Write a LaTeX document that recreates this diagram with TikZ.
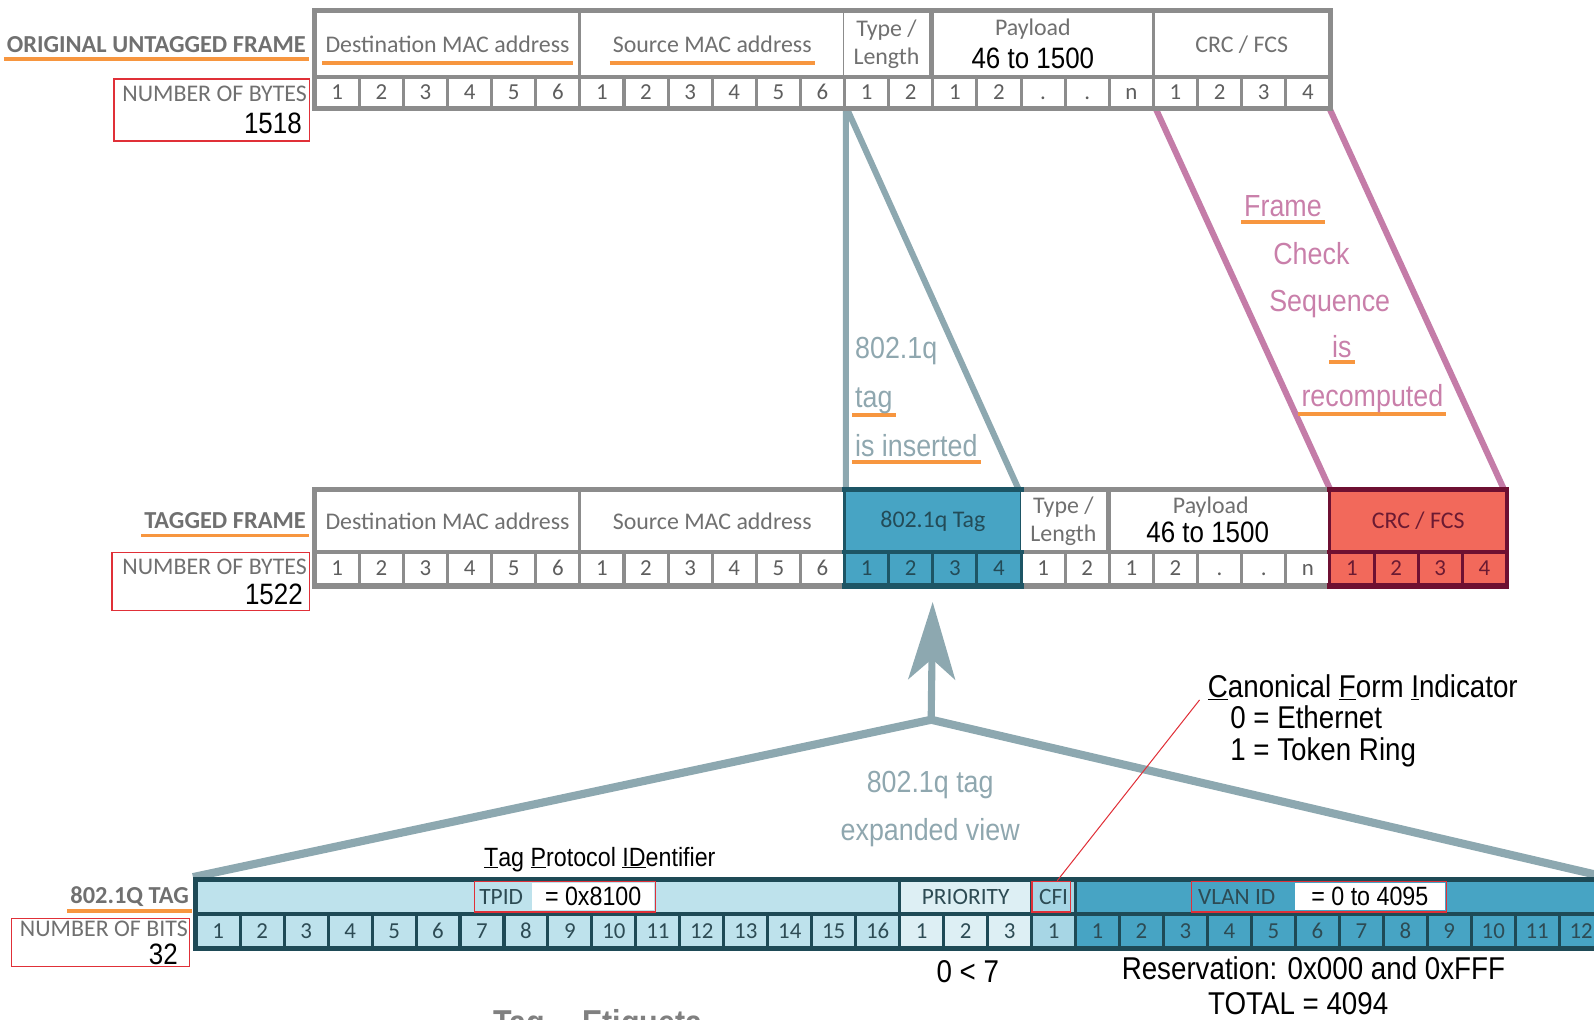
\documentclass[tikz,border=0pt]{standalone}
\usepackage{fontspec}
\setmainfont{Carlito}
\newfontfamily\narrowsans[FakeStretch=0.88]{Liberation Sans}
\usetikzlibrary{arrows.meta, positioning, backgrounds}

\definecolor{framegray}{HTML}{8C8C8C}
\definecolor{txtgray}{HTML}{707070}
\definecolor{numgray}{HTML}{5E5E5E}
\definecolor{tealline}{HTML}{8DA8B0}
\definecolor{tealtext}{HTML}{8FA7AF}
\definecolor{pinkline}{HTML}{C47CA8}
\definecolor{pinktext}{HTML}{C97FAA}
\definecolor{tagdark}{HTML}{1D5565}
\definecolor{tagblue}{HTML}{47A4C4}
\definecolor{tagtxt}{HTML}{234B57}
\definecolor{crcdark}{HTML}{6E1032}
\definecolor{crcred}{HTML}{F2695B}
\definecolor{crctxt}{HTML}{6B1A32}
\definecolor{tpidblue}{HTML}{BEE2EC}
\definecolor{prioblue}{HTML}{DDEFF4}
\definecolor{cfiblue}{HTML}{A7D6E5}
\definecolor{bardark}{HTML}{1E4A56}
\definecolor{bittxt}{HTML}{2D4B54}
\definecolor{boxred}{HTML}{E03038}
\definecolor{ulorange}{HTML}{F7963F}

% orange underline under a piece of text
\newcommand\ornul[2][9pt]{\setbox0\hbox{#2}\rlap{\smash{\hskip-3pt\color{ulorange}\rule[-#1]{\dimexpr\wd0+6pt\relax}{3.5pt}}}\box0}

\tikzset{
  every node/.style={inner sep=0pt},
  lbl/.style={text=txtgray, font=\fontsize{23.5}{28}\selectfont},
  frmlbl/.style={text=txtgray, font=\bfseries\fontsize{24}{26}\selectfont},
  ohdr/.style={lbl, fill=white, minimum height=61pt, align=center},
  thdr/.style={lbl, fill=white, minimum height=57pt, align=center},
  bhdr/.style={text=bittxt, font=\fontsize{23}{26}\selectfont, minimum height=30pt},
  byte/.style={fill=white, text=numgray, minimum width=40.4pt, text height=14pt, text depth=0pt, font=\fontsize{22.5}{24}\selectfont},
  bitcell/.style={text=bittxt, minimum width=40.25pt, minimum height=30pt, text height=14pt, text depth=0pt, font=\fontsize{22.5}{24}\selectfont},
  redbox/.style={draw=boxred, line width=1.4pt},
  bignum/.style={text=black, font=\narrowsans\fontsize{29}{32}\selectfont},
  blacktxt/.style={text=black, font=\narrowsans\fontsize{31}{32}\selectfont},
  tealtxt/.style={text=tealtext, font=\narrowsans\fontsize{30}{34}\selectfont},
  pinktxt/.style={text=pinktext, font=\narrowsans\fontsize{30}{34}\selectfont},
  tealln/.style={draw=tealline, line width=6pt},
  pinkln/.style={draw=pinkline, line width=6pt},
}

\begin{document}
\begin{tikzpicture}[x=1pt, y=-1pt]
    \clip (0,0) rectangle (1568,1003);

    % original untagged frame
    \node[fill=framegray, minimum width=1004.2pt, minimum height=101pt] (oframe) at (809.1,58.5) {};
    \node[ohdr, minimum width=257.4pt] (odst) at (440.2,43.5) {\ornul[12pt]{Destination MAC address}};
    \node[ohdr, minimum width=257.4pt] (osrc) at (700.6,43.5) {\ornul[12pt]{Source MAC address}};
    \node[ohdr, minimum width=83.8pt] (otyp) at (872,43.5) {Type /\\Length};
    \node[ohdr, minimum width=214pt] (opay) at (1026.1,43.5) {};
    \node[ohdr, minimum width=170.6pt] (ocrc) at (1221.4,43.5) {CRC / FCS};
    \node[lbl] (opaylbl) at (1016,29) {Payload};
    \node[bignum] (opaynum) at (1016,57) {46 to 1500};
    \foreach \t [count=\i] in {1,2,3,4,5,6,1,2,3,4,5,6,1,2,1,2,.,.,n,1,2,3,4}
        \node[byte, minimum height=27pt] (o\i) at ({310+(\i-0.5)*43.4},91) {\t};

    \node[frmlbl, anchor=base east] (origlbl) at (301,51.5) {\ornul[8.5pt]{ORIGINAL UNTAGGED FRAME}};
    \node[redbox, anchor=north east, minimum width=192pt, minimum height=61pt] (obytes) at (305,77) {};
    \node[lbl, anchor=east] (obyteslbl) at (302,92) {NUMBER OF BYTES};
    \node[bignum, anchor=east] (obytesnum) at (297,121) {1518};

    % tagged frame
    \node[fill=framegray, minimum width=1177.8pt, minimum height=100pt] (tframe) at (895.9,529) {};
    \node[fill=tagdark, minimum width=179.6pt, minimum height=100pt] (tgrp) at (917.6,529) {};
    \node[fill=crcdark, minimum width=179.6pt, minimum height=100pt] (cgrp) at (1395,529) {};
    \node[thdr, minimum width=257.4pt] (tdst) at (440.2,512.5) {Destination MAC address};
    \node[thdr, minimum width=257.4pt] (tsrc) at (700.6,512.5) {Source MAC address};
    \node[thdr, minimum width=170.6pt, fill=tagblue, text=tagtxt] (ttag) at (917.6,512.5) {802.1q Tag};
    \node[thdr, minimum width=83.8pt] (ttyp) at (1046,512.5) {Type /\\Length};
    \node[thdr, minimum width=214pt] (tpay) at (1199.7,512.5) {};
    \node[thdr, minimum width=170.6pt, fill=crcred, text=crctxt] (tcrc) at (1395,512.5) {CRC / FCS};
    \node[lbl] (tpaylbl) at (1191,499) {Payload};
    \node[bignum] (tpaynum) at (1188,524) {46 to 1500};
    \foreach \t [count=\i] in {1,2,3,4,5,6,1,2,3,4,5,6}
        \node[byte, minimum height=28pt] (t\i) at ({310+(\i-0.5)*43.4},559) {\t};
    \foreach \t [count=\i from 13] in {1,2,3,4}
        \node[byte, minimum height=28pt, fill=tagblue, text=tagtxt] (t\i) at ({310+(\i-0.5)*43.4},559) {\t};
    \foreach \t [count=\i from 17] in {1,2,1,2,.,.,n}
        \node[byte, minimum height=28pt] (t\i) at ({310+(\i-0.5)*43.4},559) {\t};
    \foreach \t [count=\i from 24] in {1,2,3,4}
        \node[byte, minimum height=28pt, fill=crcred, text=crctxt] (t\i) at ({310+(\i-0.5)*43.4},559) {\t};

    \node[frmlbl, anchor=base east] (taglbl) at (301,519.5) {\ornul{TAGGED FRAME}};
    \node[redbox, anchor=north east, minimum width=194pt, minimum height=57pt] (tbytes) at (305,543) {};
    \node[lbl, anchor=east] (tbyteslbl) at (302,558) {NUMBER OF BYTES};
    \node[bignum, anchor=east] (tbytesnum) at (298,585) {1522};

    % 802.1Q tag, expanded
    \node[fill=bardark, minimum width=1390pt, minimum height=72pt] (bframe) at (885,899) {};
    \node[bhdr, fill=tpidblue, minimum width=689pt] (tpid) at (539,882.5) {};
    \node[bhdr, fill=prioblue, minimum width=126.75pt] (prio) at (949.9,882.5) {PRIORITY};
    \node[bhdr, fill=cfiblue, minimum width=40.25pt] (cfi) at (1036.4,882.5) {CFI};
    \node[bhdr, fill=tagblue, minimum width=516pt] (vid) at (1317.5,882.5) {};
    \foreach \i in {1,...,16}
        \node[bitcell, fill=tpidblue] (b\i) at ({193+(\i-0.5)*43.25},916) {\i};
    \foreach \t [count=\i from 17] in {1,2,3}
        \node[bitcell, fill=prioblue] (b\i) at ({193+(\i-0.5)*43.25},916) {\t};
    \node[bitcell, fill=cfiblue] (b20) at ({193+19.5*43.25},916) {1};
    \foreach \t [count=\i from 21] in {1,2,3,4,5,6,7,8,9,10,11,12}
        \node[bitcell, fill=tagblue] (b\i) at ({193+(\i-0.5)*43.25},916) {\t};

    \node[redbox, minimum width=178pt, minimum height=30pt] (tpidbox) at (556,882) {};
    \node[fill=white, minimum width=120pt, minimum height=26pt, anchor=east, text=black, font=\narrowsans\fontsize{26}{28}\selectfont] (tpidval) at ([xshift=-2pt]tpidbox.east) {= 0x8100};
    \node[bhdr, anchor=west] (tpidlbl) at ([xshift=5pt]tpidbox.west) {TPID};
    \node[redbox, minimum width=38pt, minimum height=30pt] (cfibox) at (1034,882) {};
    \node[redbox, minimum width=251pt, minimum height=30pt] (vidbox) at (1297.5,882) {};
    \node[fill=white, minimum width=148pt, minimum height=26pt, anchor=east, text=black, font=\narrowsans\fontsize{26}{28}\selectfont] (vidval) at ([xshift=-2pt]vidbox.east) {= 0 to 4095};
    \node[bhdr, anchor=west] (vidlbl) at ([xshift=7pt]vidbox.west) {VLAN ID};

    \node[frmlbl, anchor=base east] (qlbl) at (186,889) {\ornul{802.1Q TAG}};
    \node[redbox, anchor=north east, minimum width=175pt, minimum height=47pt] (qbits) at (187,903) {};
    \node[lbl, anchor=east] (qbitslbl) at (185,914) {NUMBER OF BITS};
    \node[bignum, anchor=east] (qbitsnum) at (175,939) {32};

    % texts
    \node[tealtxt, anchor=base west] (ins1) at (841,353) {802.1q};
    \node[tealtxt, anchor=base west] (ins2) at (841,401) {\ornul{tag}};
    \node[tealtxt, anchor=base west] (ins3) at (841,449) {\ornul[7pt]{is inserted}};
    \node[pinktxt, anchor=base] (fcs1) at (1262,213) {\ornul[7pt]{Frame}};
    \node[pinktxt, anchor=base] (fcs2) at (1290,260) {Check};
    \node[pinktxt, anchor=base] (fcs3) at (1308,306) {Sequence};
    \node[pinktxt, anchor=base] (fcs4) at (1320,352) {\ornul[6pt]{is}};
    \node[pinktxt, anchor=base] (fcs5) at (1350,400) {\ornul{recomputed}};
    \node[tealtxt, anchor=base] (exp1) at (915,780) {802.1q tag};
    \node[tealtxt, anchor=base] (exp2) at (915,827) {expanded view};
    \node[blacktxt, anchor=base, font=\narrowsans\fontsize{26}{28}\selectfont] (tpidtxt) at (590,852) {\underline{T}ag \underline{P}rotocol \underline{ID}entifier};
    \node[blacktxt, anchor=base west] (cfitxt) at (1188,686) {\underline{C}anonical \underline{F}orm \underline{I}ndicator};
    \node[blacktxt, anchor=base west] (cfi0) at (1210,717) {0 = Ethernet};
    \node[blacktxt, anchor=base west] (cfi1) at (1210,748) {1 = Token Ring};
    \node[blacktxt, anchor=base] (priotxt) at (952,966) {0 < 7};
    \node[blacktxt, anchor=base] (restxt) at (1292,964) {Reservation: 0x000 and 0xFFF};
    \node[blacktxt, anchor=base] (tottxt) at (1277,998) {TOTAL = 4094};
    \node[anchor=north, text=gray, font=\narrowsans\bfseries\fontsize{34}{36}\selectfont] (titletxt) at (588,993) {Tag -- Etiqueta};

    % connectors
    \coordinate (apex) at (916,708);
    \begin{pgfonlayer}{background}
        \draw[tealln] (o13.south west) -- (ttag.north west);
        \draw[tealln] (o13.south west) -- (ttag.north east);
        \draw[pinkln] (o20.south west) -- (tcrc.north west);
        \draw[pinkln] (o23.south east) -- (tcrc.north east);
        \draw[tealln, line width=8pt] (bframe.north west) -- (apex) -- (bframe.north east);
    \end{pgfonlayer}
    \draw[tealln, line width=7pt, -{Stealth[length=76pt, width=46pt, inset=20pt]}, shorten >=13pt] (apex) -- (ttag |- tframe.south);
    \draw[boxred, line width=1pt] ([xshift=6pt]cfibox.north) -- ([xshift=-8pt]cfitxt.south west);
\end{tikzpicture}
\end{document}
